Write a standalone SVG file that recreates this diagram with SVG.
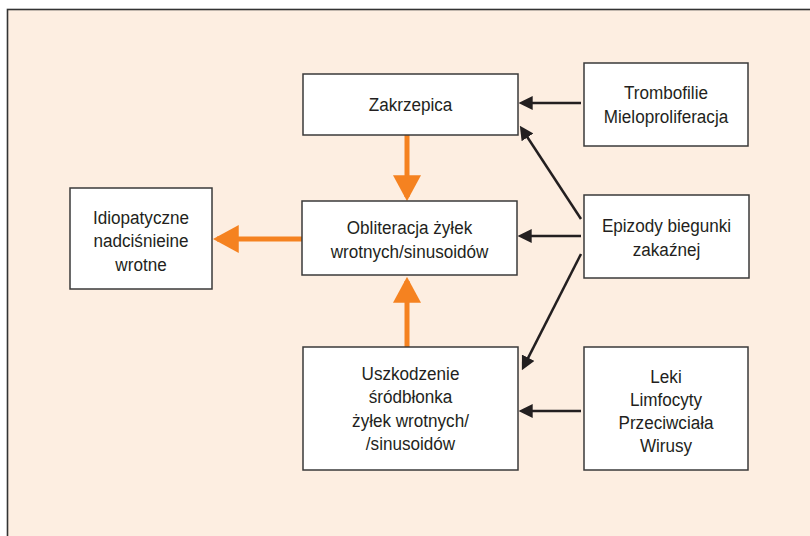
<svg xmlns="http://www.w3.org/2000/svg" width="810" height="536" viewBox="0 0 810 536">
<style>
.box{fill:#ffffff;stroke:#3a3a3a;stroke-width:1.5}
.t{font-family:"Liberation Sans",Arial,sans-serif;font-size:19px;fill:#231f20;text-anchor:middle}
.blk{stroke:#231f20;stroke-width:2.5;fill:none}
.org{stroke:#f58220;stroke-width:5;fill:none}
</style>
<defs>
<marker id="ab" markerUnits="userSpaceOnUse" markerWidth="14" markerHeight="14" viewBox="0 0 13 13" refX="9" refY="6.5" orient="auto">
<path d="M0,0 L13,6.5 L0,13 z" fill="#231f20"/>
</marker>
<marker id="ao" markerUnits="userSpaceOnUse" markerWidth="26" markerHeight="28" viewBox="0 0 25 27" refX="21" refY="13.5" orient="auto">
<path d="M0,0 L25,13.5 L0,27 z" fill="#f58220"/>
</marker>
</defs>
<rect x="0" y="0" width="810" height="536" fill="#ffffff"/>
<rect x="7.5" y="9.5" width="820" height="540" fill="#fdeee1" stroke="#333333" stroke-width="1.6"/>
<g id="connectors">
<line class="blk" x1="581" y1="103" x2="523" y2="103" marker-end="url(#ab)"/>
<line class="blk" x1="581" y1="219" x2="522.2" y2="129.3" marker-end="url(#ab)"/>
<line class="blk" x1="581" y1="236" x2="522" y2="236" marker-end="url(#ab)"/>
<line class="blk" x1="581" y1="254" x2="523.8" y2="366.4" marker-end="url(#ab)"/>
<line class="blk" x1="581" y1="411" x2="523" y2="411" marker-end="url(#ab)"/>
<line class="org" x1="407" y1="135" x2="407" y2="197" marker-end="url(#ao)"/>
<line class="org" x1="407" y1="347" x2="407" y2="281" marker-end="url(#ao)"/>
<line class="org" x1="302" y1="239" x2="217" y2="239" marker-end="url(#ao)"/>
</g>
<g id="zakrzepica">
<rect class="box" x="303" y="74" width="215" height="61"/>
<g transform="translate(410.5 0) scale(0.9 1)"><text class="t" x="0" y="111">Zakrzepica</text></g>
</g>
<g id="trombofilie">
<rect class="box" x="584" y="63" width="164" height="83"/>
<g transform="translate(666 0) scale(0.9 1)">
<text class="t" x="0" y="99">Trombofilie</text>
<text class="t" x="0" y="123">Mieloproliferacja</text>
</g>
</g>
<g id="idiopatyczne">
<rect class="box" x="70" y="188" width="142" height="101"/>
<g transform="translate(141 0) scale(0.9 1)">
<text class="t" x="0" y="224">Idiopatyczne</text>
<text class="t" x="0" y="247.5">nadciśnieine</text>
<text class="t" x="0" y="271">wrotne</text>
</g>
</g>
<g id="obliteracja">
<rect class="box" x="302" y="201" width="215" height="74"/>
<g transform="translate(409.5 0) scale(0.9 1)">
<text class="t" x="0" y="234">Obliteracja żyłek</text>
<text class="t" x="0" y="258">wrotnych/sinusoidów</text>
</g>
</g>
<g id="epizody">
<rect class="box" x="584" y="195" width="165" height="83"/>
<g transform="translate(666.5 0) scale(0.9 1)">
<text class="t" x="0" y="232.5">Epizody biegunki</text>
<text class="t" x="0" y="256">zakaźnej</text>
</g>
</g>
<g id="uszkodzenie">
<rect class="box" x="303" y="347" width="215" height="123"/>
<g transform="translate(410.5 0) scale(0.9 1)">
<text class="t" x="0" y="380.5">Uszkodzenie</text>
<text class="t" x="0" y="403.5">śródbłonka</text>
<text class="t" x="0" y="427">żyłek wrotnych/</text>
<text class="t" x="0" y="450">/sinusoidów</text>
</g>
</g>
<g id="leki">
<rect class="box" x="584" y="347" width="164" height="123"/>
<g transform="translate(666 0) scale(0.9 1)">
<text class="t" x="0" y="383.5">Leki</text>
<text class="t" x="0" y="406.5">Limfocyty</text>
<text class="t" x="0" y="429.5">Przeciwciała</text>
<text class="t" x="0" y="452.5">Wirusy</text>
</g>
</g>
</svg>
